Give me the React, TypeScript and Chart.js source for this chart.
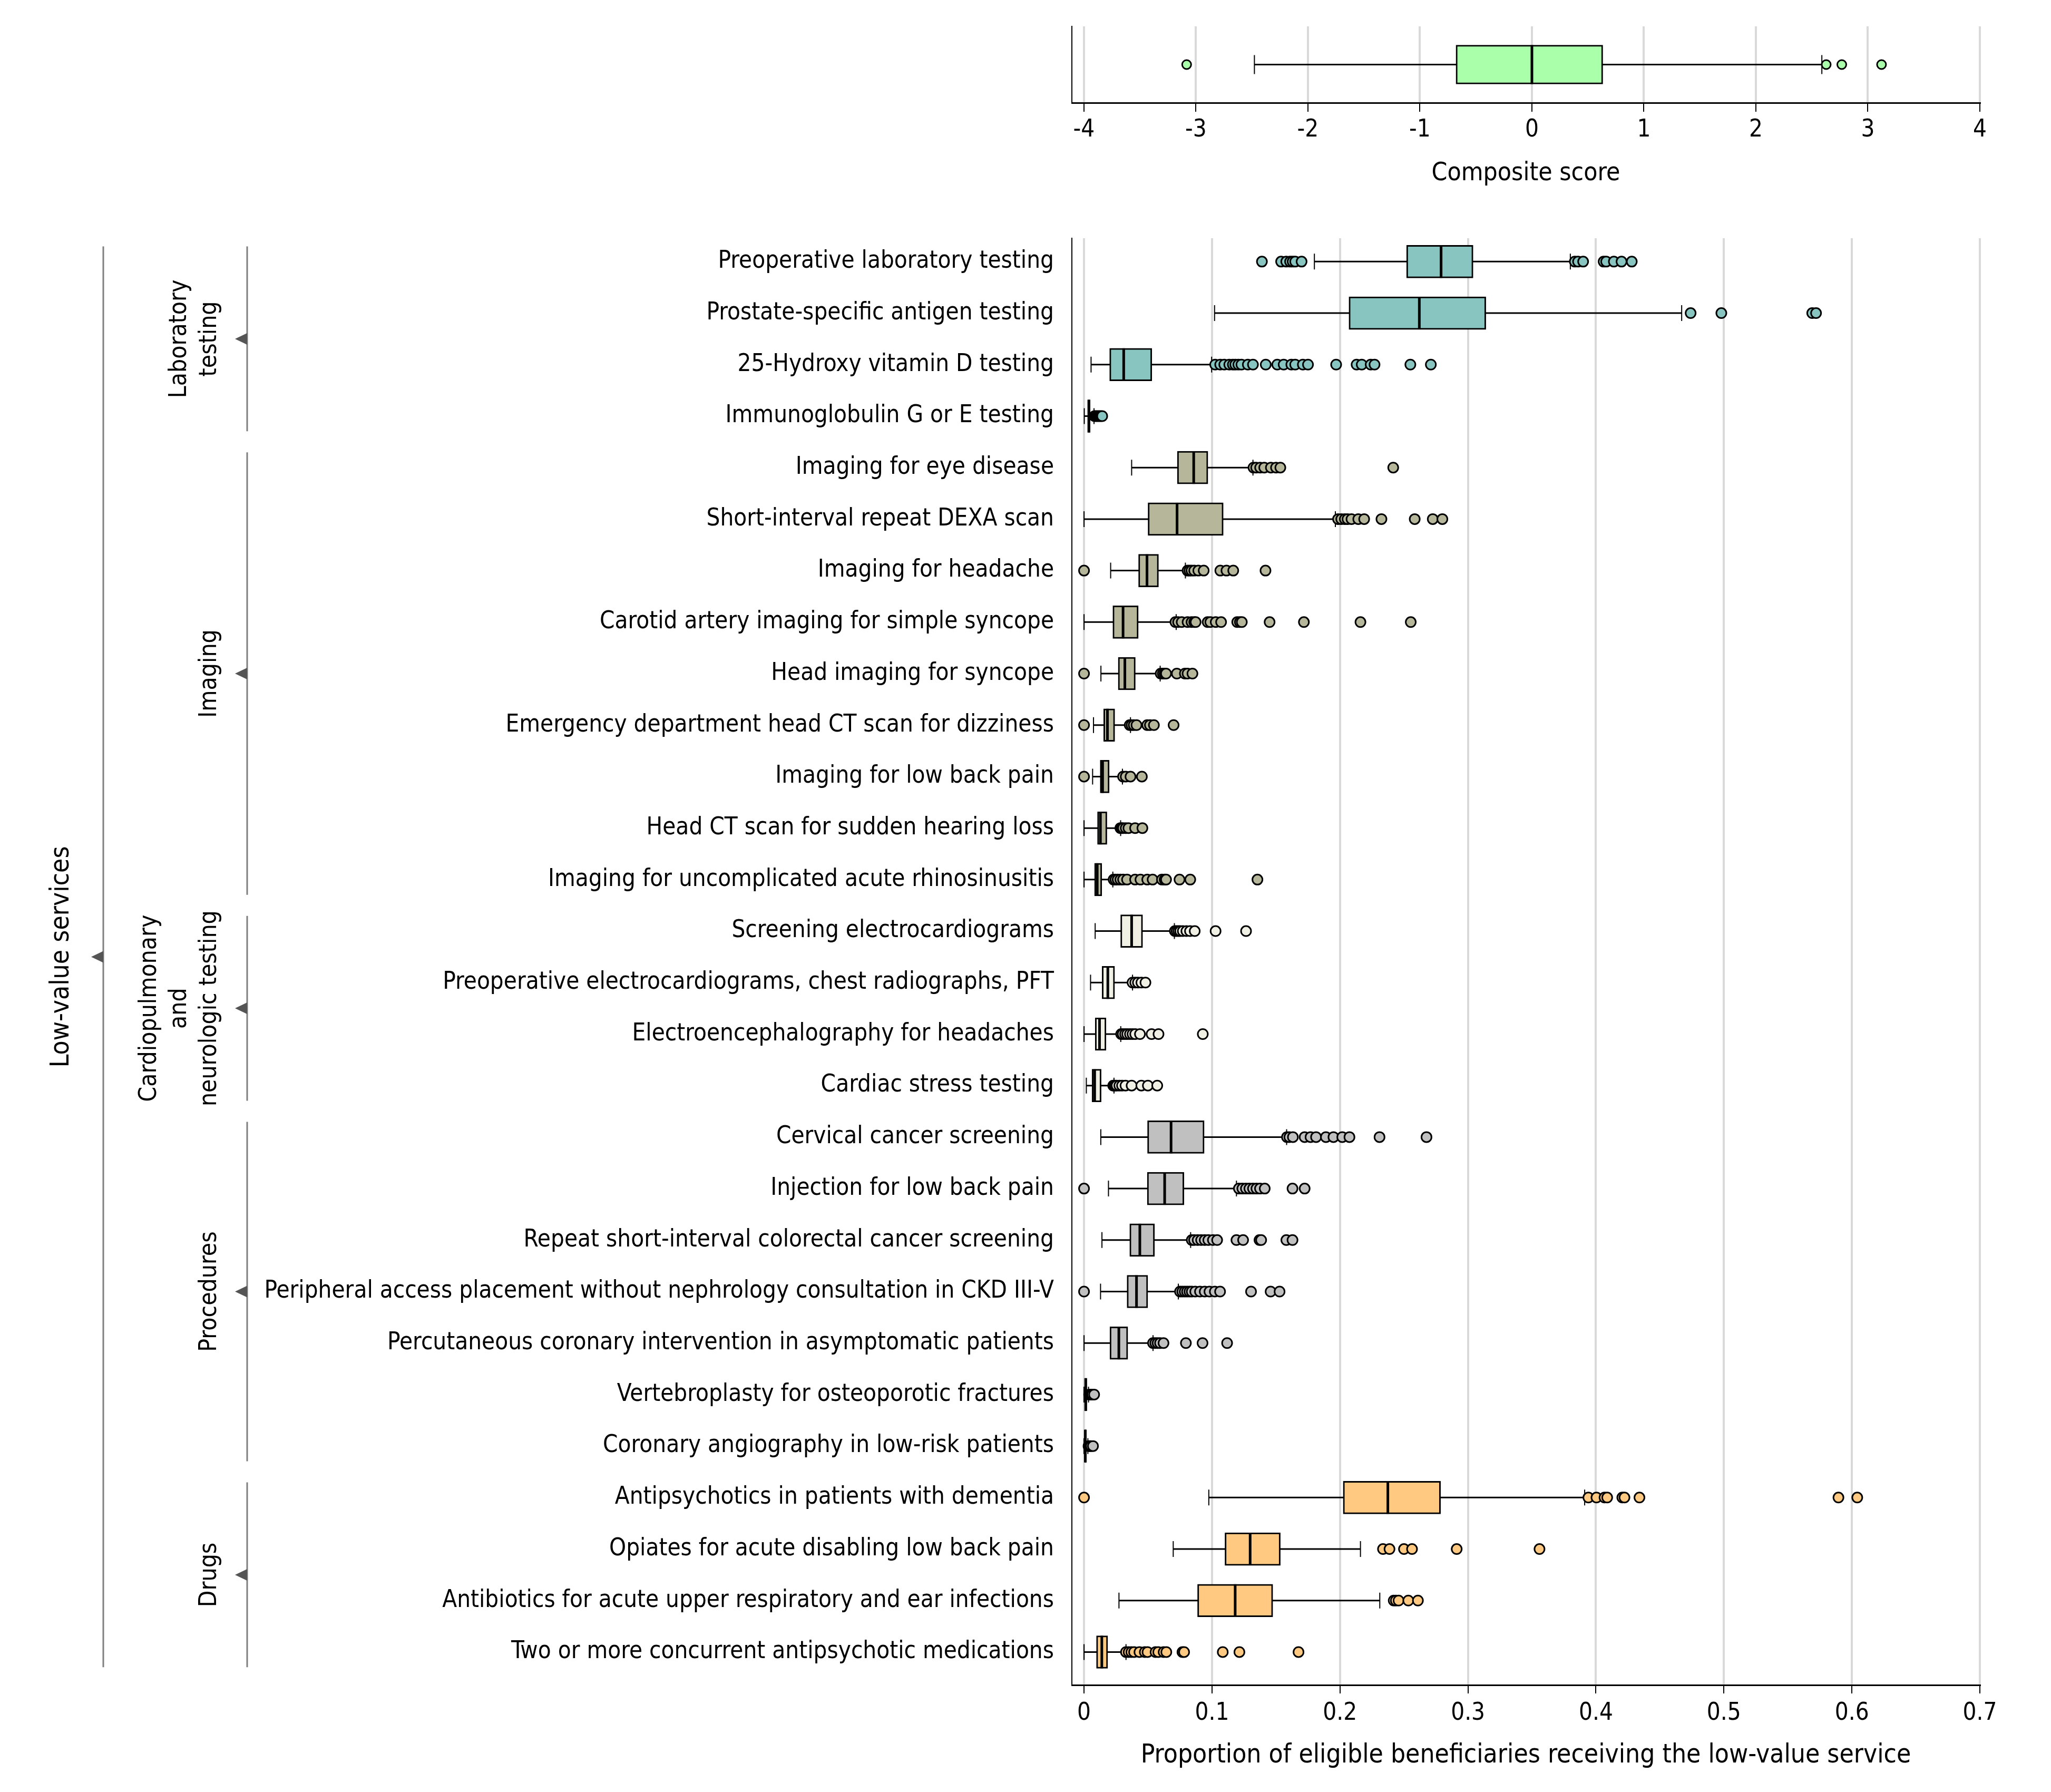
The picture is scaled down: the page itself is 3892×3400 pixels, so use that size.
import React, { useEffect, useRef } from 'react';
import { Chart, registerables } from 'chart.js';

Chart.register(...registerables);

// ---------------- DATA ----------------
const services = [
  'Preoperative laboratory testing',
  'Prostate-specific antigen testing',
  '25-Hydroxy vitamin D testing',
  'Immunoglobulin G or E testing',
  'Imaging for eye disease',
  'Short-interval repeat DEXA scan',
  'Imaging for headache',
  'Carotid artery imaging for simple syncope',
  'Head imaging for syncope',
  'Emergency department head CT scan for dizziness',
  'Imaging for low back pain',
  'Head CT scan for sudden hearing loss',
  'Imaging for uncomplicated acute rhinosinusitis',
  'Screening electrocardiograms',
  'Preoperative electrocardiograms, chest radiographs, PFT',
  'Electroencephalography for headaches',
  'Cardiac stress testing',
  'Cervical cancer screening',
  'Injection for low back pain',
  'Repeat short-interval colorectal cancer screening',
  'Peripheral access placement without nephrology consultation in CKD III-V',
  'Percutaneous coronary intervention in asymptomatic patients',
  'Vertebroplasty for osteoporotic fractures',
  'Coronary angiography in low-risk patients',
  'Antipsychotics in patients with dementia',
  'Opiates for acute disabling low back pain',
  'Antibiotics for acute upper respiratory and ear infections',
  'Two or more concurrent antipsychotic medications',
];

const groupLabels = [
  ['Laboratory', 'testing'],
  ['Imaging'],
  ['Cardiopulmonary', 'and', 'neurologic testing'],
  ['Procedures'],
  ['Drugs'],
];
const groupSizes = [4, 9, 4, 7, 4];
const overallLabel = 'Low-value services';

const whiskerLow = [0.18, 0.102, 0.0055, 0.0002, 0.0372, 0.0, 0.0208, 0.0, 0.0132, 0.0074, 0.0067, 0.0, 0.0, 0.0087, 0.0051, 0.0, 0.0018, 0.0131, 0.0191, 0.014, 0.0129, 0.0, 0.0, 0.0, 0.0975, 0.0697, 0.0273, 0.0];
const quartile1 = [0.252, 0.207, 0.02, 0.0028, 0.0729, 0.05, 0.0426, 0.0225, 0.0267, 0.0153, 0.0126, 0.0105, 0.0082, 0.0286, 0.0141, 0.0087, 0.0062, 0.0496, 0.0494, 0.0357, 0.0336, 0.0202, 0.0005, 0.0004, 0.2025, 0.1101, 0.0887, 0.0097];
const medians = [0.279, 0.262, 0.031, 0.0038, 0.0857, 0.0727, 0.0492, 0.0305, 0.0319, 0.0183, 0.0145, 0.0128, 0.0103, 0.0372, 0.0186, 0.0121, 0.0083, 0.068, 0.063, 0.0436, 0.041, 0.0272, 0.0013, 0.001, 0.2374, 0.1298, 0.1181, 0.0139];
const quartile3 = [0.304, 0.314, 0.053, 0.0048, 0.0968, 0.1088, 0.0582, 0.0424, 0.0401, 0.024, 0.0197, 0.0179, 0.0139, 0.0458, 0.0239, 0.0172, 0.0134, 0.0939, 0.0781, 0.0551, 0.0498, 0.0342, 0.0022, 0.0018, 0.2786, 0.1534, 0.1475, 0.0185];
const whiskerHigh = [0.38, 0.467, 0.0997, 0.0078, 0.132, 0.1964, 0.0792, 0.072, 0.0595, 0.0363, 0.03, 0.0286, 0.0225, 0.0706, 0.0379, 0.0287, 0.0234, 0.1583, 0.1191, 0.0833, 0.0737, 0.0539, 0.0035, 0.003, 0.3912, 0.216, 0.2311, 0.0328];

const outliers = [
  [0.139, 0.154, 0.158, 0.161, 0.163, 0.165, 0.17, 0.3835, 0.386, 0.39, 0.406, 0.408, 0.414, 0.42, 0.428],
  [0.474, 0.498, 0.569, 0.572],
  [0.1025, 0.1064, 0.1096, 0.1135, 0.1163, 0.1182, 0.1206, 0.123, 0.128, 0.132, 0.142, 0.151, 0.156, 0.162, 0.165, 0.171, 0.175, 0.197, 0.213, 0.217, 0.224, 0.227, 0.255, 0.271],
  [0.0082, 0.0092, 0.0102, 0.0112, 0.0122, 0.0132, 0.0142],
  [0.1324, 0.1345, 0.1376, 0.1408, 0.146, 0.15, 0.1534, 0.2416],
  [0.1985, 0.201, 0.2038, 0.2059, 0.209, 0.2143, 0.2189, 0.2324, 0.2584, 0.2725, 0.28],
  [0.0, 0.0809, 0.0824, 0.084, 0.0861, 0.0893, 0.0935, 0.1065, 0.1113, 0.1166, 0.1418],
  [0.0714, 0.0735, 0.0763, 0.0809, 0.084, 0.0861, 0.0872, 0.0966, 0.0987, 0.1029, 0.1071, 0.1197, 0.1218, 0.1233, 0.145, 0.1718, 0.216, 0.2553],
  [0.0, 0.0599, 0.0616, 0.063, 0.0641, 0.0725, 0.0788, 0.0809, 0.0847],
  [0.0, 0.0357, 0.0372, 0.0389, 0.041, 0.0494, 0.0515, 0.0546, 0.07],
  [0.0, 0.0305, 0.0326, 0.0363, 0.0452],
  [0.0284, 0.0294, 0.0305, 0.0326, 0.0347, 0.0399, 0.0456],
  [0.0231, 0.0246, 0.0263, 0.0284, 0.0305, 0.0336, 0.0399, 0.0441, 0.0494, 0.0536, 0.0609, 0.063, 0.0641, 0.0746, 0.083, 0.1355],
  [0.071, 0.0724, 0.0738, 0.0752, 0.0772, 0.08, 0.0828, 0.0865, 0.1028, 0.1266],
  [0.0379, 0.04, 0.0421, 0.0448, 0.048],
  [0.029, 0.0303, 0.0321, 0.0338, 0.0359, 0.0379, 0.04, 0.0437, 0.0528, 0.0582, 0.0928],
  [0.0228, 0.0234, 0.0244, 0.0255, 0.0276, 0.0297, 0.0324, 0.0372, 0.0448, 0.0499, 0.0572],
  [0.1586, 0.1605, 0.1632, 0.1724, 0.177, 0.1813, 0.189, 0.1949, 0.2018, 0.2074, 0.2309, 0.2676],
  [0.0, 0.121, 0.1237, 0.1265, 0.1292, 0.132, 0.1347, 0.1375, 0.1412, 0.1629, 0.1724],
  [0.0842, 0.086, 0.0888, 0.0915, 0.0943, 0.0971, 0.1007, 0.104, 0.1191, 0.1243, 0.1371, 0.1384, 0.1581, 0.1629],
  [0.0, 0.075, 0.0768, 0.0787, 0.0805, 0.0824, 0.0842, 0.0869, 0.0906, 0.0943, 0.098, 0.1022, 0.1063, 0.1305, 0.1458, 0.1528],
  [0.0539, 0.0557, 0.0575, 0.0594, 0.0621, 0.0796, 0.0926, 0.1118],
  [0.004, 0.0048, 0.0056, 0.0065, 0.0079],
  [0.0035, 0.0045, 0.0055, 0.007],
  [0.0, 0.3941, 0.4004, 0.4067, 0.4088, 0.4206, 0.4223, 0.434, 0.5895, 0.6042],
  [0.2336, 0.2387, 0.25, 0.2563, 0.2912, 0.3559],
  [0.242, 0.2437, 0.2458, 0.2534, 0.2609],
  [0.0328, 0.0349, 0.037, 0.0391, 0.0433, 0.0475, 0.0496, 0.0559, 0.058, 0.0622, 0.0643, 0.0769, 0.0782, 0.1084, 0.1214, 0.1676],
];

const xTickValues = [0, 0.1, 0.2, 0.3, 0.4, 0.5, 0.6, 0.7];
const xTitle = 'Proportion of eligible beneficiaries receiving the low-value service';

const compositeWhiskerLow = [-2.478];
const compositeQ1 = [-0.678];
const compositeMedian = [0.0];
const compositeQ3 = [0.633];
const compositeWhiskerHigh = [2.589];
const compositeOutliers = [-3.083, 2.628, 2.767, 3.122];
const compositeTicks = [-4, -3, -2, -1, 0, 1, 2, 3, 4];
const compositeTitle = 'Composite score';

// ---------------- STYLE ----------------
const groupColors = ['#88c4c0', '#b5b69a', '#f0f0e4', '#c0c0c0', '#ffc982'];
const compositeColor = '#aaffaa';
const GRID = '#d9d9d9';
const W = 3892;
const H = 3400;
const AREA_LEFT = 2034;
const AREA_RIGHT = 3757;

function pickFamily(): string {
  const c = document.createElement('canvas').getContext('2d') as CanvasRenderingContext2D;
  const probe = 'Preoperative laboratory testing 0.123';
  const cands = ['Liberation Sans Narrow', 'DejaVu Sans Condensed', 'Roboto'];
  for (const f of cands) {
    c.font = `100px "${f}", monospace`;
    const a = c.measureText(probe).width;
    c.font = '100px monospace';
    const b = c.measureText(probe).width;
    if (Math.abs(a - b) > 1) return `"${f}", "Liberation Sans", sans-serif`;
  }
  return '"Liberation Sans", sans-serif';
}

function fitSize(family: string, text: string, target: number): number {
  const c = document.createElement('canvas').getContext('2d') as CanvasRenderingContext2D;
  c.font = `100px ${family}`;
  return (100 * target) / c.measureText(text).width;
}

function boxPlugin(lo: number[], med: number[], hi: number[], capHalf: number, boxHalf: number): any {
  return {
    id: 'boxWhiskers',
    beforeDatasetsDraw(chart: any) {
      const { ctx } = chart;
      const xs = chart.scales.x;
      const ys = chart.scales.y;
      ctx.save();
      ctx.strokeStyle = '#000';
      lo.forEach((l, i) => {
        const yy = ys.getPixelForValue(i);
        const a = xs.getPixelForValue(l);
        const b = xs.getPixelForValue(hi[i]);
        ctx.lineWidth = 3;
        ctx.beginPath();
        ctx.moveTo(a, yy);
        ctx.lineTo(b, yy);
        ctx.stroke();
        ctx.lineWidth = 2;
        ctx.beginPath();
        ctx.moveTo(a, yy - capHalf);
        ctx.lineTo(a, yy + capHalf);
        ctx.moveTo(b, yy - capHalf);
        ctx.lineTo(b, yy + capHalf);
        ctx.stroke();
      });
      ctx.restore();
    },
    afterDatasetDraw(chart: any, args: any) {
      if (args.meta.type !== 'bar') return;
      const { ctx } = chart;
      const xs = chart.scales.x;
      const ys = chart.scales.y;
      ctx.save();
      ctx.strokeStyle = '#000';
      ctx.lineWidth = 5;
      med.forEach((m, i) => {
        const yy = ys.getPixelForValue(i);
        const xm = xs.getPixelForValue(m);
        ctx.beginPath();
        ctx.moveTo(xm, yy - boxHalf);
        ctx.lineTo(xm, yy + boxHalf);
        ctx.stroke();
      });
      ctx.restore();
    },
  };
}

function drawBracket(ctx: CanvasRenderingContext2D, x: number, top: number, bot: number) {
  ctx.strokeStyle = '#7f7f7f';
  ctx.lineWidth = 3;
  ctx.beginPath();
  ctx.moveTo(x, top);
  ctx.lineTo(x, bot);
  ctx.stroke();
  const c = (top + bot) / 2;
  ctx.fillStyle = '#555555';
  ctx.beginPath();
  ctx.moveTo(x - 23, c);
  ctx.lineTo(x, c - 11);
  ctx.lineTo(x, c + 11);
  ctx.closePath();
  ctx.fill();
}

function drawRotated(ctx: CanvasRenderingContext2D, text: string, x: number, y: number, font: string) {
  ctx.save();
  ctx.translate(x, y);
  ctx.rotate(-Math.PI / 2);
  ctx.font = font;
  ctx.fillStyle = '#000';
  ctx.textAlign = 'center';
  ctx.textBaseline = 'middle';
  ctx.fillText(text, 0, 0);
  ctx.restore();
}

export default function App() {
  const topRef = useRef<HTMLCanvasElement>(null);
  const mainRef = useRef<HTMLCanvasElement>(null);

  useEffect(() => {
    const family = pickFamily();
    Chart.defaults.font.family = family;
    Chart.defaults.color = '#000';

    const labelSize = fitSize(family, services[20], 1499);
    const tickSize = labelSize;
    const xTitleSize = fitSize(family, xTitle, 1462);
    const compTitleSize = fitSize(family, compositeTitle, 358);
    const groupSize = fitSize(family, 'Cardiopulmonary', 355);
    const outerSize = fitSize(family, overallLabel, 420);

    const rowGroup: number[] = groupSizes.flatMap((n, g) => Array(n).fill(g));
    const points: { x: number; y: number }[] = [];
    const pointColors: string[] = [];
    outliers.forEach((arr, i) => {
      arr.forEach((v) => {
        points.push({ x: v, y: i });
        pointColors.push(groupColors[rowGroup[i]]);
      });
    });

    const groupPlugin: any = {
      id: 'groupBrackets',
      afterDraw(chart: any) {
        const { ctx } = chart;
        const ys = chart.scales.y;
        ctx.save();
        let start = 0;
        let outerTop = 0;
        let outerBot = 0;
        groupSizes.forEach((n, g) => {
          const top = ys.getPixelForValue(start - 0.5) + 20;
          const bot = ys.getPixelForValue(start + n - 0.5) - 20;
          if (g === 0) outerTop = top;
          outerBot = bot;
          drawBracket(ctx, 469, top, bot);
          const c = (top + bot) / 2;
          const lines = groupLabels[g];
          lines.forEach((t, j) => {
            drawRotated(ctx, t, 398 - (lines.length - 1 - j) * 57, c, `${groupSize}px ${family}`);
          });
          start += n;
        });
        drawBracket(ctx, 196, outerTop, outerBot);
        drawRotated(ctx, overallLabel, 117, (outerTop + outerBot) / 2, `${outerSize}px ${family}`);
        ctx.restore();
      },
    };

    const main = new Chart(mainRef.current as HTMLCanvasElement, {
      type: 'bar',
      data: {
        datasets: [
          {
            type: 'bar',
            order: 2,
            data: services.map((_, i) => ({ x: [quartile1[i], quartile3[i]], y: i })) as any,
            backgroundColor: rowGroup.map((g) => groupColors[g]),
            borderColor: '#000',
            borderWidth: 3,
            borderSkipped: false,
            barThickness: 62,
          } as any,
          {
            type: 'scatter',
            order: 1,
            data: points,
            pointRadius: 9.5,
            pointBorderWidth: 3,
            pointBorderColor: '#000',
            pointBackgroundColor: pointColors,
          } as any,
        ],
      },
      options: {
        indexAxis: 'y',
        responsive: false,
        animation: false,
        events: [],
        layout: { padding: { top: 452, right: W - AREA_RIGHT, bottom: 0, left: 0 } },
        plugins: { legend: { display: false }, tooltip: { enabled: false } },
        scales: {
          x: {
            type: 'linear',
            position: 'bottom',
            offset: false,
            min: -0.0095,
            max: 0.7,
            afterBuildTicks: (ax: any) => {
              ax.ticks = xTickValues.map((v) => ({ value: v }));
            },
            afterFit: (s: any) => {
              s.height = H - 3197;
            },
            grid: { color: GRID, lineWidth: 4, tickColor: '#000', tickLength: 16, tickWidth: 2, offset: false },
            border: { color: '#000', width: 3 },
            ticks: {
              font: { size: tickSize, lineHeight: 1.2 },
              color: '#000',
              padding: Math.max(0, 54 - 16 - 0.6 * tickSize),
              maxRotation: 0,
              autoSkip: false,
              callback: (v: any) => String(v),
            },
            title: {
              display: true,
              text: xTitle,
              color: '#000',
              font: { size: xTitleSize, lineHeight: 1.2 },
              padding: { top: 0, bottom: Math.max(0, 69 - 0.6 * xTitleSize) },
            },
          },
          y: {
            type: 'linear',
            position: 'left',
            reverse: true,
            offset: false,
            min: -0.454,
            max: 27.64,
            afterBuildTicks: (ax: any) => {
              ax.ticks = services.map((_, i) => ({ value: i }));
            },
            afterFit: (s: any) => {
              s.width = AREA_LEFT;
            },
            grid: { display: false, drawTicks: false, offset: false },
            border: { display: true, color: '#000', width: 2 },
            ticks: {
              autoSkip: false,
              padding: 34,
              color: '#000',
              font: { size: labelSize },
              callback: (v: any) => services[v] ?? '',
            },
          },
        },
      } as any,
      plugins: [boxPlugin(whiskerLow, medians, whiskerHigh, 15, 31), groupPlugin],
    });

    const top = new Chart(topRef.current as HTMLCanvasElement, {
      type: 'bar',
      data: {
        datasets: [
          {
            type: 'bar',
            order: 2,
            data: compositeQ1.map((q, i) => ({ x: [q, compositeQ3[i]], y: i })) as any,
            backgroundColor: compositeColor,
            borderColor: '#000',
            borderWidth: 3,
            borderSkipped: false,
            barThickness: 74,
          } as any,
          {
            type: 'scatter',
            order: 1,
            data: compositeOutliers.map((v) => ({ x: v, y: 0 })),
            pointRadius: 8.5,
            pointBorderWidth: 3,
            pointBorderColor: '#000',
            pointBackgroundColor: compositeColor,
          } as any,
        ],
      },
      options: {
        indexAxis: 'y',
        responsive: false,
        animation: false,
        events: [],
        layout: { padding: { top: 50, right: W - AREA_RIGHT, bottom: 0, left: 0 } },
        plugins: { legend: { display: false }, tooltip: { enabled: false } },
        scales: {
          x: {
            type: 'linear',
            position: 'bottom',
            offset: false,
            min: -4.108,
            max: 4,
            afterBuildTicks: (ax: any) => {
              ax.ticks = compositeTicks.map((v) => ({ value: v }));
            },
            afterFit: (s: any) => {
              s.height = 400 - 195;
            },
            grid: { color: GRID, lineWidth: 4, tickColor: '#000', tickLength: 17, tickWidth: 2, offset: false },
            border: { color: '#000', width: 3 },
            ticks: {
              font: { size: tickSize, lineHeight: 1.2 },
              color: '#000',
              padding: Math.max(0, 52 - 17 - 0.6 * tickSize),
              maxRotation: 0,
              autoSkip: false,
              callback: (v: any) => String(v),
            },
            title: {
              display: true,
              text: compositeTitle,
              color: '#000',
              font: { size: compTitleSize, lineHeight: 1.2 },
              padding: { top: 0, bottom: Math.max(0, 70 - 0.6 * compTitleSize) },
            },
          },
          y: {
            type: 'linear',
            position: 'left',
            offset: false,
            min: -1,
            max: 1,
            afterFit: (s: any) => {
              s.width = AREA_LEFT;
            },
            grid: { display: false, drawTicks: false, offset: false },
            border: { display: true, color: '#000', width: 2 },
            ticks: { display: false },
          },
        },
      } as any,
      plugins: [boxPlugin(compositeWhiskerLow, compositeMedian, compositeWhiskerHigh, 18, 37)],
    });

    return () => {
      main.destroy();
      top.destroy();
    };
  }, []);

  return (
    <div style={{ position: 'absolute', left: 0, top: 0, width: W, height: H, background: '#fff' }}>
      <canvas ref={mainRef} width={W} height={H} style={{ position: 'absolute', left: 0, top: 0 }} />
      <canvas ref={topRef} width={W} height={400} style={{ position: 'absolute', left: 0, top: 0 }} />
    </div>
  );
}
